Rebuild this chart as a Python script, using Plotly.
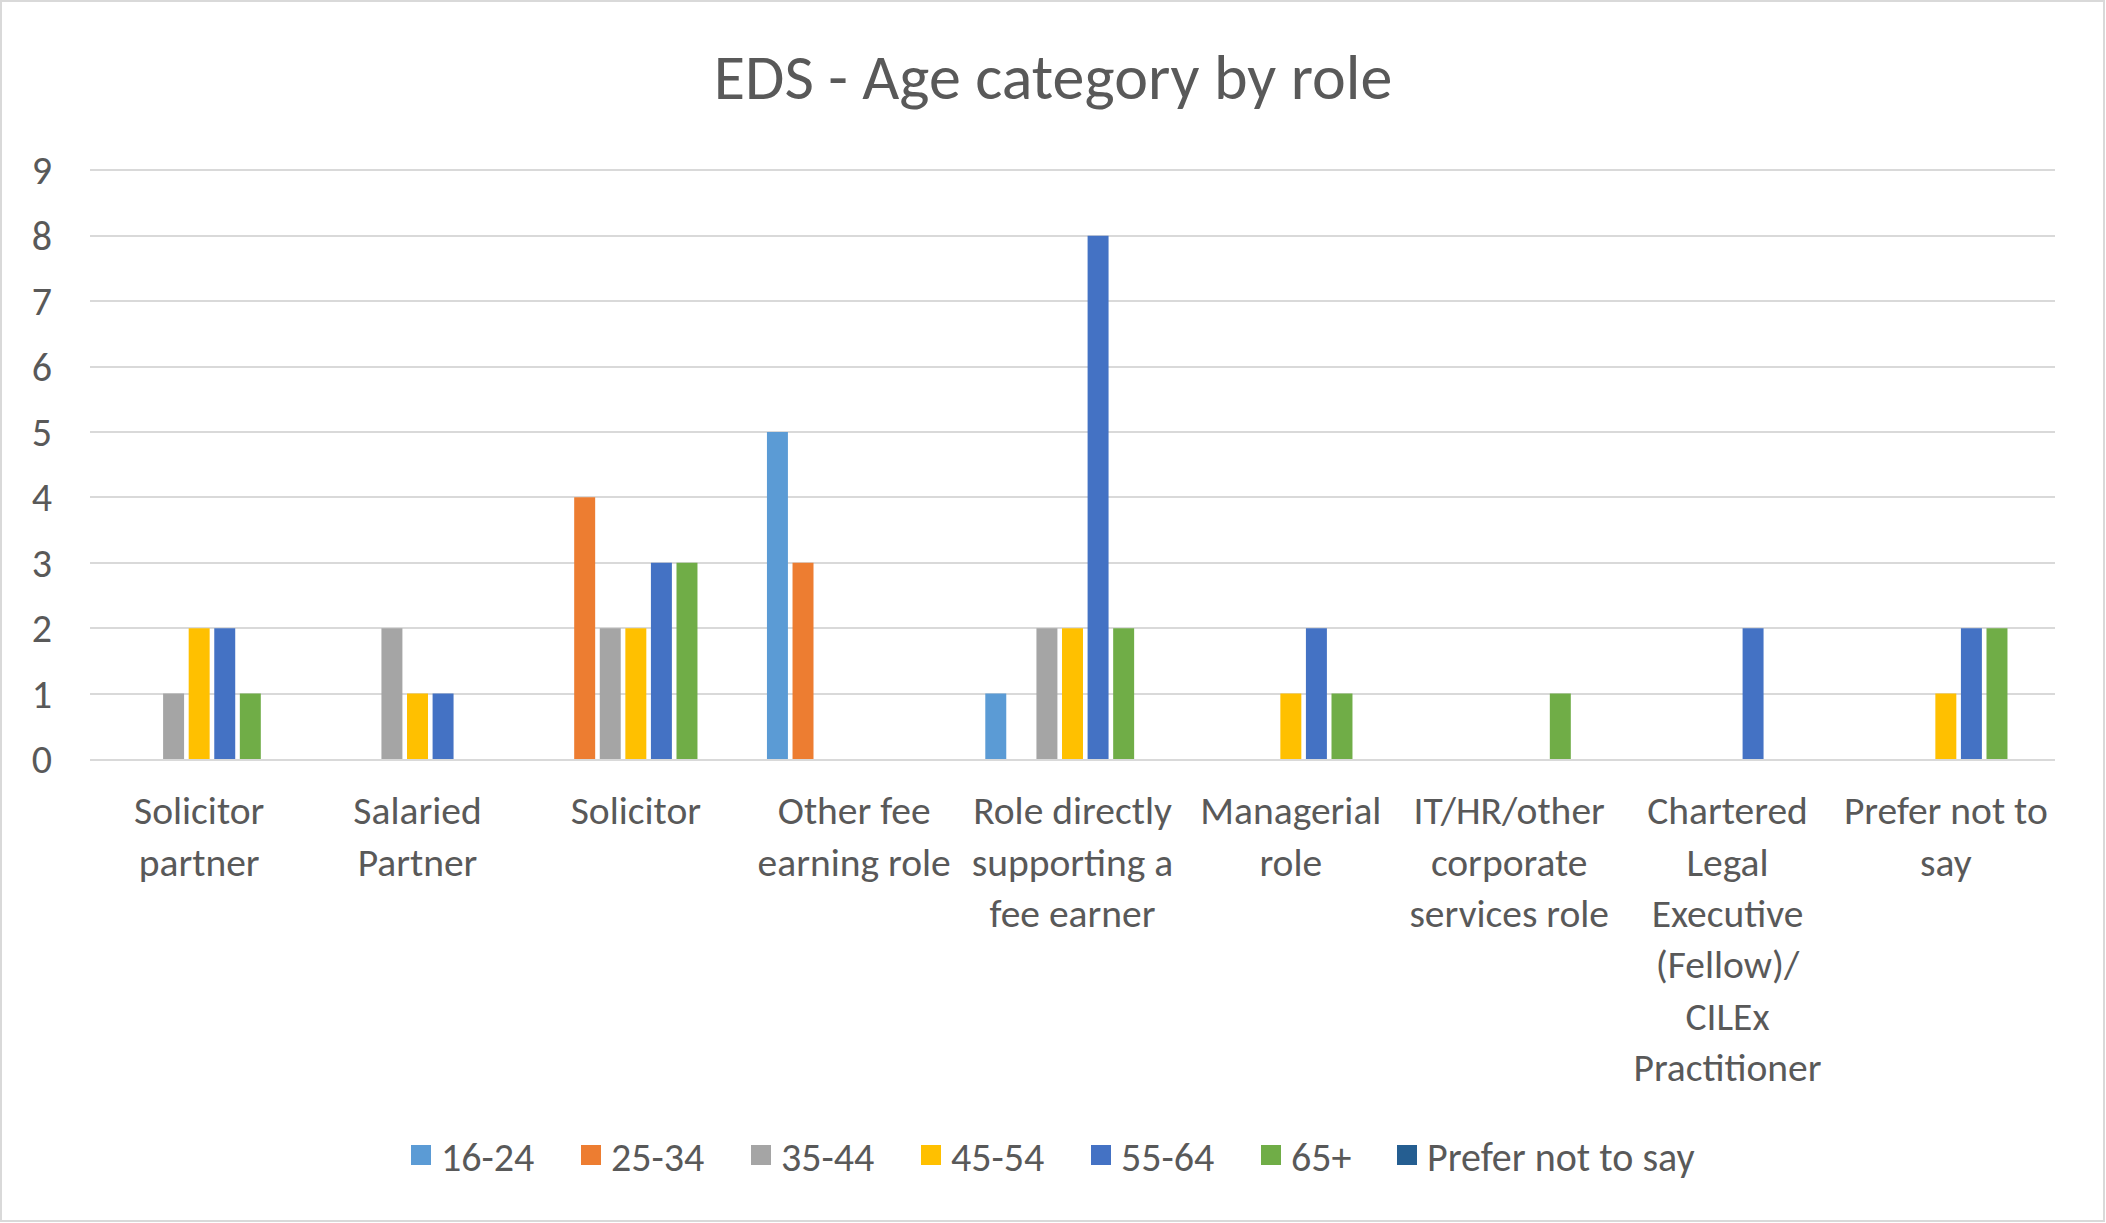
import plotly.graph_objects as go

categories = [
    "Solicitor<br>partner",
    "Salaried<br>Partner",
    "Solicitor",
    "Other fee<br>earning role",
    "Role directly<br>supporting a<br>fee earner",
    "Managerial<br>role",
    "IT/HR/other<br>corporate<br>services role",
    "Chartered<br>Legal<br>Executive<br>(Fellow)/<br>CILEx<br>Practitioner",
    "Prefer not to<br>say",
]

series_names = ["16-24", "25-34", "35-44", "45-54", "55-64", "65+", "Prefer not to say"]

age_16_24 = [None, None, None, 5, 1, None, None, None, None]
age_25_34 = [None, None, 4, 3, None, None, None, None, None]
age_35_44 = [1, 2, 2, None, 2, None, None, None, None]
age_45_54 = [2, 1, 2, None, 2, 1, None, None, 1]
age_55_64 = [2, 1, 3, None, 8, 2, None, 2, 2]
age_65_plus = [1, None, 3, None, 2, 1, 1, None, 2]
age_prefer_not = [None, None, None, None, None, None, None, None, None]

series_values = [age_16_24, age_25_34, age_35_44, age_45_54, age_55_64, age_65_plus, age_prefer_not]
colors = ["#5B9BD5", "#ED7D31", "#A5A5A5", "#FFC000", "#4472C4", "#70AD47", "#255E91"]

y_ticks = [0, 1, 2, 3, 4, 5, 6, 7, 8, 9]

FONT = "Carlito, Calibri, Lato, sans-serif"
TXT = "#595959"

W, H = 2106, 1223
ML, MR, MT, MB = 90, 51, 169, 464

fig = go.Figure()
for name, vals, col in zip(series_names, series_values, colors):
    fig.add_trace(go.Bar(x=categories, y=vals, name=name, legendgroup=name, showlegend=False,
                         marker=dict(color=col, line=dict(width=0))))
# legend entries (square swatches) for each series; last one in a second legend box
for i, (name, col) in enumerate(zip(series_names, colors)):
    fig.add_trace(go.Scatter(x=[None], y=[None], mode="markers", name=name, legendgroup=name,
                             legend="legend2" if i == len(series_names) - 1 else "legend",
                             marker=dict(symbol="square", size=20, color=col,
                                         line=dict(color=col, width=4)),
                             hoverinfo="skip"))

legend_common = dict(orientation="h", xref="container", xanchor="left",
                     y=1 - 1155 / H, yref="container", yanchor="middle",
                     font=dict(family=FONT, size=40, color=TXT), itemclick=False,
                     traceorder="normal", bgcolor="rgba(0,0,0,0)")

fig.update_layout(
    width=W, height=H,
    margin=dict(l=ML, r=MR, t=MT, b=MB),
    paper_bgcolor="white", plot_bgcolor="white",
    barmode="group", bargap=0.18, bargroupgap=0.18,
    font=dict(family=FONT, color=TXT, size=40),
    title=dict(text="EDS - Age category by role", x=0.5, xref="container", xanchor="center",
               y=1 - 77 / H, yref="container", yanchor="middle",
               font=dict(family=FONT, size=64, color=TXT)),
    legend=dict(legend_common, x=401 / W, entrywidth=125, entrywidthmode="pixels"),
    legend2=dict(legend_common, x=1387 / W),
    showlegend=True,
)
fig.update_xaxes(showgrid=False, showline=True, linecolor="#D9D9D9", linewidth=2,
                 tickfont=dict(family=FONT, size=39.5, color=TXT), ticks="",
                 ticklabelstandoff=16, tickangle=0)
fig.update_yaxes(range=[0, 9.02], tickvals=y_ticks, showgrid=True, gridcolor="#D9D9D9", gridwidth=2,
                 zeroline=False, showline=False, ticks="",
                 tickfont=dict(family=FONT, size=40, color=TXT), ticklabelstandoff=37)

pw = W - ML - MR
ph = H - MT - MB
fig.add_shape(type="rect", xref="paper", yref="paper",
              x0=(1 - ML) / pw, x1=(W - 2 - ML) / pw,
              y0=-(MB - 2) / ph, y1=1 + (MT - 1) / ph,
              line=dict(color="#D9D9D9", width=2), fillcolor="rgba(0,0,0,0)", layer="below")

fig.write_html("out.html", config={"displayModeBar": False},
               post_script="document.body.style.margin='0';document.body.style.padding='0';")
